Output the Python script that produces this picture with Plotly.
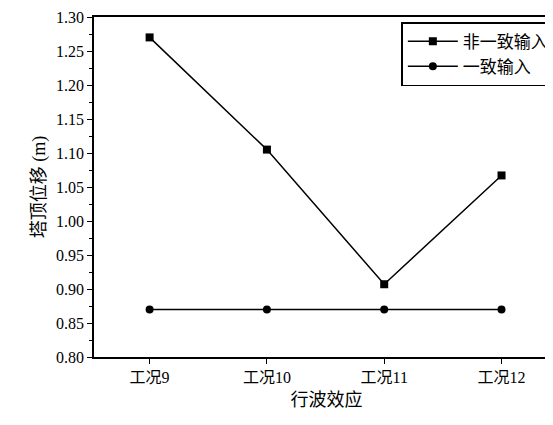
import plotly.graph_objects as go

cases = ['工况9', '工况10', '工况11', '工况12']
nonuniform = [1.270, 1.105, 0.907, 1.067]
uniform = [0.870, 0.870, 0.870, 0.870]

font = "Liberation Serif, Noto Sans CJK SC"

fig = go.Figure()
fig.add_trace(go.Scatter(x=cases, y=nonuniform, name='非一致输入', mode='lines+markers',
                         line=dict(color='black', width=1.5),
                         marker=dict(symbol='square', size=8, color='black')))
fig.add_trace(go.Scatter(x=cases, y=uniform, name='一致输入', mode='lines+markers',
                         line=dict(color='black', width=1.5),
                         marker=dict(symbol='circle', size=8, color='black')))

fig.update_layout(
    width=553, height=425,
    margin=dict(l=86, r=0, t=9, b=76),
    plot_bgcolor='white', paper_bgcolor='white',
    font=dict(family=font, size=16, color='black'),
    showlegend=True,
    legend=dict(x=0.99, y=0.985, xanchor='right', yanchor='top',
                bordercolor='black', borderwidth=1.5, bgcolor='white',
                font=dict(size=17), tracegroupgap=0, itemwidth=50),
    xaxis=dict(title=dict(text='行波效应', font=dict(size=18), standoff=8),
               range=[-0.474, 3.49], showline=True, linecolor='black', linewidth=1.5,
               mirror=True, ticks='outside', ticklen=5, tickcolor='black', showgrid=False),
    yaxis=dict(title=dict(text='塔顶位移 (m)', font=dict(size=18), standoff=6),
               range=[0.80, 1.30], dtick=0.05, tickformat='.2f',
               showline=True, linecolor='black', linewidth=1.5, mirror=True,
               ticks='outside', ticklen=5, tickcolor='black', showgrid=False,
               minor=dict(ticks='outside', ticklen=3, dtick=0.025, tickcolor='black')),
)

fig.write_html("out.html")
